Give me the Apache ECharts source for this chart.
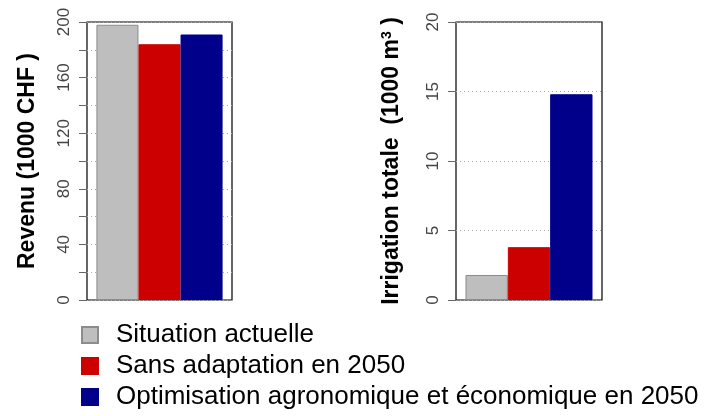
<!DOCTYPE html>
<html>
<head>
<meta charset="utf-8">
<script src="https://cdn.jsdelivr.net/npm/echarts@6/dist/echarts.min.js"></script>
<style>
  html, body { margin: 0; padding: 0; background: #fff; }
  #chart { width: 714px; height: 416px; }
</style>
</head>
<body>
<div id="chart"></div>
<script>
// Données
const scenarios = ['Situation actuelle', 'Sans adaptation en 2050', 'Optimisation agronomique et économique en 2050'];
const categories = [''];
const revenu = [198, 184, 191];       // 1000 CHF
const irrigation = [1.8, 3.8, 14.8];  // 1000 m3
const revenuTicks = [0, 40, 80, 120, 160, 200];
const irrigationTicks = [0, 5, 10, 15, 20];

const colors = ['#bebebe', '#cd0000', '#00008b'];
const borders = ['#8c8c8c', '#cd0000', '#00008b'];
const font = '"Liberation Sans", Arial, sans-serif';

const chart = echarts.init(document.getElementById('chart'));

const yAxisBase = (gridIndex, ticks, name, gap) => ({
  type: 'value',
  gridIndex,
  min: ticks[0],
  max: ticks[ticks.length - 1],
  interval: ticks[1] - ticks[0],
  name,
  nameLocation: 'middle',
  nameGap: gap,
  nameTextStyle: {
    fontFamily: font, fontSize: 23, fontWeight: 'bold', color: '#000',
    rich: {
      sup: { fontFamily: font, fontSize: 14, fontWeight: 'bold', color: '#000', verticalAlign: 'top', padding: [0, 0, 10, 0] },
    },
  },
  axisLine: { show: false },
  axisTick: { show: true, length: 8, lineStyle: { color: '#666' } },
  axisLabel: { rotate: 90, margin: 14, color: '#444', fontFamily: font, fontSize: 17 },
  splitLine: { show: true, lineStyle: { color: '#aaa', type: [1, 3] } },
});

const option = {
  animation: false,
  textStyle: { fontFamily: font },
  grid: [
    { left: 87, top: 22, width: 145, height: 278, show: true, borderColor: '#000', borderWidth: 1.2 },
    { left: 456, top: 22, width: 146, height: 278, show: true, borderColor: '#000', borderWidth: 1.2 },
  ],
  xAxis: [
    { type: 'category', gridIndex: 0, data: categories, show: false },
    { type: 'category', gridIndex: 1, data: categories, show: false },
  ],
  yAxis: [
    Object.assign(yAxisBase(0, revenuTicks, 'Revenu (1000 CHF )', 48), {
      interval: 40,
      minorTick: { show: true, splitNumber: 2, length: 8, lineStyle: { color: '#666' } },
      minorSplitLine: { show: true, lineStyle: { color: '#aaa', type: [1, 3] } },
    }),
    yAxisBase(1, irrigationTicks, 'Irrigation totale  (1000 m{sup|3} )', 52),
  ],
  legend: {
    orient: 'vertical',
    left: 81,
    top: 322,
    padding: 0,
    itemWidth: 16,
    itemHeight: 16,
    itemGap: 5,
    icon: 'rect',
    data: scenarios,
    textStyle: { fontFamily: font, fontSize: 26, color: '#000', lineHeight: 26, padding: [0, 0, 0, 13] },
  },
  series: [],
};

scenarios.forEach((name, i) => {
  const style = { color: colors[i], borderColor: borders[i], borderWidth: 1 };
  option.series.push({
    name, type: 'bar', xAxisIndex: 0, yAxisIndex: 0,
    data: [revenu[i]], itemStyle: style,
    barGap: '0%', barCategoryGap: '13%',
  });
  option.series.push({
    name, type: 'bar', xAxisIndex: 1, yAxisIndex: 1,
    data: [irrigation[i]], itemStyle: style,
    barGap: '0%', barCategoryGap: '13%',
  });
});

chart.setOption(option);
</script>
</body>
</html>
